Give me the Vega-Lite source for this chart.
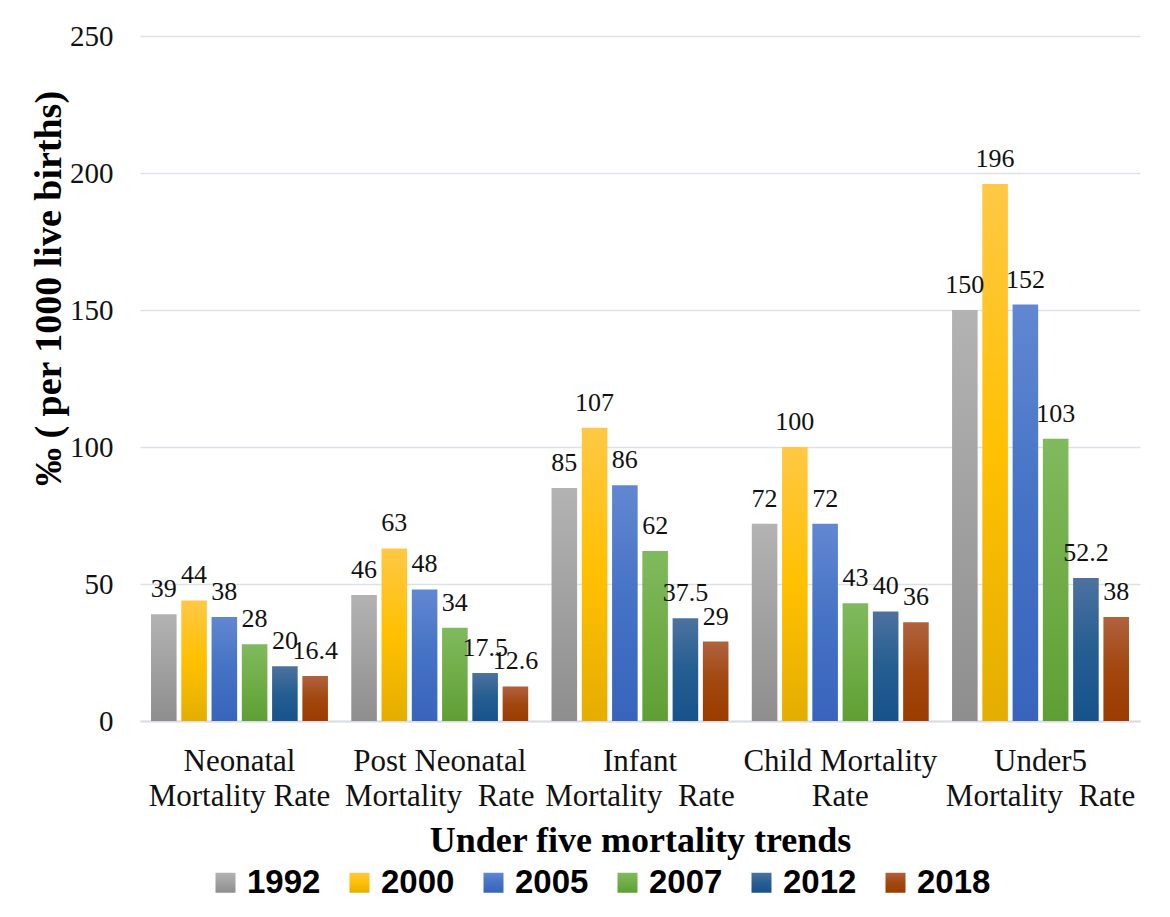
{
  "$schema": "https://vega.github.io/schema/vega-lite/v6.json",
  "width": 1000,
  "height": 685,
  "autosize": {"type": "none"},
  "padding": {"left": 140, "top": 36, "right": 30, "bottom": 196},
  "background": "white",
  "data": {
    "values": [
      {"indicator": "Neonatal Mortality Rate", "year": "1992", "value": 39},
      {"indicator": "Neonatal Mortality Rate", "year": "2000", "value": 44},
      {"indicator": "Neonatal Mortality Rate", "year": "2005", "value": 38},
      {"indicator": "Neonatal Mortality Rate", "year": "2007", "value": 28},
      {"indicator": "Neonatal Mortality Rate", "year": "2012", "value": 20},
      {"indicator": "Neonatal Mortality Rate", "year": "2018", "value": 16.4},
      {"indicator": "Post Neonatal Mortality Rate", "year": "1992", "value": 46},
      {"indicator": "Post Neonatal Mortality Rate", "year": "2000", "value": 63},
      {"indicator": "Post Neonatal Mortality Rate", "year": "2005", "value": 48},
      {"indicator": "Post Neonatal Mortality Rate", "year": "2007", "value": 34},
      {"indicator": "Post Neonatal Mortality Rate", "year": "2012", "value": 17.5},
      {"indicator": "Post Neonatal Mortality Rate", "year": "2018", "value": 12.6},
      {"indicator": "Infant Mortality Rate", "year": "1992", "value": 85},
      {"indicator": "Infant Mortality Rate", "year": "2000", "value": 107},
      {"indicator": "Infant Mortality Rate", "year": "2005", "value": 86},
      {"indicator": "Infant Mortality Rate", "year": "2007", "value": 62},
      {"indicator": "Infant Mortality Rate", "year": "2012", "value": 37.5},
      {"indicator": "Infant Mortality Rate", "year": "2018", "value": 29},
      {"indicator": "Child Mortality Rate", "year": "1992", "value": 72},
      {"indicator": "Child Mortality Rate", "year": "2000", "value": 100},
      {"indicator": "Child Mortality Rate", "year": "2005", "value": 72},
      {"indicator": "Child Mortality Rate", "year": "2007", "value": 43},
      {"indicator": "Child Mortality Rate", "year": "2012", "value": 40},
      {"indicator": "Child Mortality Rate", "year": "2018", "value": 36},
      {"indicator": "Under5 Mortality Rate", "year": "1992", "value": 150},
      {"indicator": "Under5 Mortality Rate", "year": "2000", "value": 196},
      {"indicator": "Under5 Mortality Rate", "year": "2005", "value": 152},
      {"indicator": "Under5 Mortality Rate", "year": "2007", "value": 103},
      {"indicator": "Under5 Mortality Rate", "year": "2012", "value": 52.2},
      {"indicator": "Under5 Mortality Rate", "year": "2018", "value": 38}
    ]
  },
  "encoding": {
    "x": {
      "field": "indicator",
      "type": "nominal",
      "sort": ["Neonatal Mortality Rate", "Post Neonatal Mortality Rate", "Infant Mortality Rate", "Child Mortality Rate", "Under5 Mortality Rate"],
      "scale": {"paddingInner": 0.1165, "paddingOuter": 0.055},
      "axis": {
        "title": "Under five mortality trends",
        "titleFont": "Liberation Serif",
        "titleFontSize": 36,
        "titleFontWeight": "bold",
        "titleColor": "#000000",
        "titleBaseline": "alphabetic",
        "titleY": 130,
        "titleX": 500,
        "titleAnchor": "middle",
        "labelAngle": 0,
        "labelFont": "Liberation Serif",
        "labelFontSize": 31,
        "labelColor": "#111111",
        "labelBaseline": "alphabetic",
        "labelPadding": 49,
        "labelLineHeight": 35,
        "labelLimit": 0,
        "labelOverlap": false,
        "labelBound": false,
        "ticks": false,
        "tickSize": 0,
        "domainColor": "#d9dde3",
        "domainWidth": 2,
        "labelExpr": "datum.value == 'Neonatal Mortality Rate' ? ['Neonatal', 'Mortality Rate'] : datum.value == 'Post Neonatal Mortality Rate' ? ['Post Neonatal', 'Mortality\u00a0 Rate'] : datum.value == 'Infant Mortality Rate' ? ['Infant', 'Mortality\u00a0 Rate'] : datum.value == 'Child Mortality Rate' ? ['Child Mortality', 'Rate'] : ['Under5', 'Mortality\u00a0 Rate']"
      }
    },
    "xOffset": {
      "field": "year",
      "type": "nominal",
      "sort": ["1992", "2000", "2005", "2007", "2012", "2018"],
      "scale": {"paddingInner": 0.155, "paddingOuter": 0}
    },
    "y": {
      "field": "value",
      "type": "quantitative",
      "scale": {"domain": [0, 250], "nice": false},
      "axis": {
        "values": [0, 50, 100, 150, 200, 250],
        "title": "‰ ( per 1000 live births)",
        "titleFont": "Liberation Serif",
        "titleFontSize": 38,
        "titleFontWeight": "bold",
        "titleColor": "#000000",
        "titleAngle": -90,
        "titleBaseline": "alphabetic",
        "titleAlign": "center",
        "titleX": -80,
        "titleY": 252,
        "labelFont": "Liberation Serif",
        "labelFontSize": 29,
        "labelColor": "#111111",
        "labelPadding": 27,
        "ticks": false,
        "tickSize": 0,
        "domain": false,
        "grid": true,
        "gridColor": "#dde1e7",
        "gridWidth": 1.5
      }
    }
  },
  "layer": [
    {
      "mark": {"type": "bar"},
      "encoding": {
        "fill": {
          "field": "year",
          "type": "nominal",
          "sort": ["1992", "2000", "2005", "2007", "2012", "2018"],
          "scale": {
            "domain": ["1992", "2000", "2005", "2007", "2012", "2018"],
            "range": [
              {"expr": "{gradient: 'linear', x1: 0, y1: 0, x2: 0, y2: 1, stops: [{offset: 0, color: '#b3b3b3'}, {offset: 1, color: '#8e8e8e'}]}"},
              {"expr": "{gradient: 'linear', x1: 0, y1: 0, x2: 0, y2: 1, stops: [{offset: 0, color: '#ffc845'}, {offset: 0.5, color: '#ffc000'}, {offset: 1, color: '#e4ae00'}]}"},
              {"expr": "{gradient: 'linear', x1: 0, y1: 0, x2: 0, y2: 1, stops: [{offset: 0, color: '#6287d2'}, {offset: 0.5, color: '#4472c4'}, {offset: 1, color: '#3864bd'}]}"},
              {"expr": "{gradient: 'linear', x1: 0, y1: 0, x2: 0, y2: 1, stops: [{offset: 0, color: '#80ba5e'}, {offset: 0.5, color: '#70ad47'}, {offset: 1, color: '#5e9f34'}]}"},
              {"expr": "{gradient: 'linear', x1: 0, y1: 0, x2: 0, y2: 1, stops: [{offset: 0, color: '#4d729f'}, {offset: 0.5, color: '#255e91'}, {offset: 1, color: '#17528c'}]}"},
              {"expr": "{gradient: 'linear', x1: 0, y1: 0, x2: 0, y2: 1, stops: [{offset: 0, color: '#b0623e'}, {offset: 0.5, color: '#a2470f'}, {offset: 1, color: '#9b3c00'}]}"}
            ]
          },
          "legend": {
            "title": null,
            "orient": "none",
            "direction": "horizontal",
            "legendX": 69,
            "legendY": 830,
            "symbolType": "square",
            "symbolSize": 400,
            "symbolStrokeWidth": 0,
            "labelFont": "Liberation Sans",
            "labelFontSize": 33,
            "labelFontWeight": "bold",
            "labelColor": "#000000",
            "labelOffset": 5,
            "columnPadding": 22,
            "labelLimit": 0
          }
        }
      }
    },
    {
      "mark": {
        "type": "text",
        "baseline": "alphabetic",
        "align": "center",
        "dy": -17,
        "font": "Liberation Serif",
        "fontSize": 26,
        "color": "#111111"
      },
      "encoding": {
        "text": {"field": "value", "type": "quantitative"}
      }
    }
  ],
  "config": {
    "view": {"stroke": null},
    "text": {"font": "Liberation Serif"}
  }
}
